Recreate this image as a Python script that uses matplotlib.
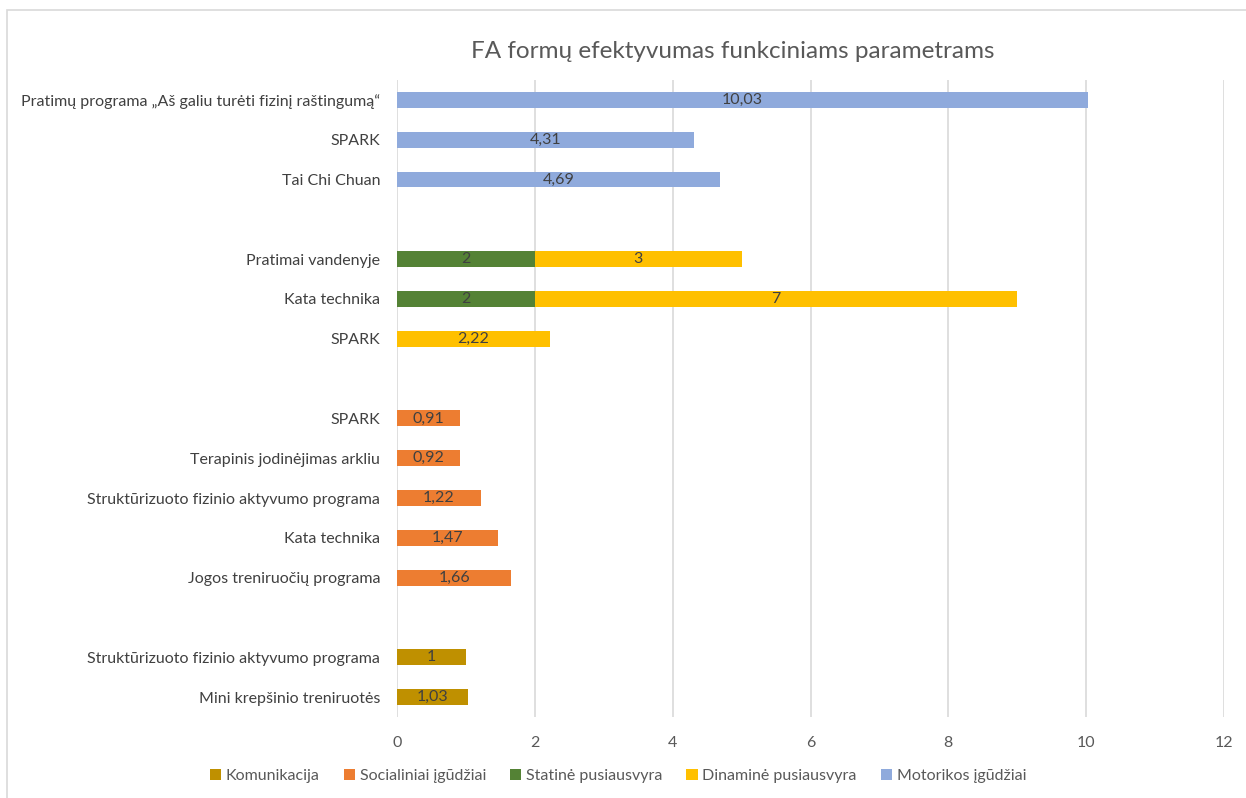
import numpy as np
import matplotlib.pyplot as plt
from matplotlib.patches import Rectangle

plt.rcParams['font.family'] = ['Lato', 'DejaVu Sans']

# rows from bottom to top, blank strings are the empty gap rows
rows = ['Mini krepšinio treniruotės',
        'Struktūrizuoto fizinio aktyvumo programa',
        '',
        'Jogos treniruočių programa',
        'Kata technika',
        'Struktūrizuoto fizinio aktyvumo programa',
        'Terapinis jodinėjimas arkliu',
        'SPARK',
        '',
        'SPARK',
        'Kata technika',
        'Pratimai vandenyje',
        '',
        'Tai Chi Chuan',
        'SPARK',
        'Pratimų programa „Aš galiu turėti fizinį raštingumą“']

komunikacija = [1.03, 1, 0, 0, 0, 0, 0, 0, 0, 0, 0, 0, 0, 0, 0, 0]
socialiniai = [0, 0, 0, 1.66, 1.47, 1.22, 0.92, 0.91, 0, 0, 0, 0, 0, 0, 0, 0]
statine = [0, 0, 0, 0, 0, 0, 0, 0, 0, 0, 2, 2, 0, 0, 0, 0]
dinamine = [0, 0, 0, 0, 0, 0, 0, 0, 0, 2.22, 7, 3, 0, 0, 0, 0]
motorikos = [0, 0, 0, 0, 0, 0, 0, 0, 0, 0, 0, 0, 0, 4.69, 4.31, 10.03]

series = [('Komunikacija', komunikacija, '#BF9000'),
          ('Socialiniai įgūdžiai', socialiniai, '#ED7D31'),
          ('Statinė pusiausvyra', statine, '#548235'),
          ('Dinaminė pusiausvyra', dinamine, '#FFC000'),
          ('Motorikos įgūdžiai', motorikos, '#8FAADC')]

fig = plt.figure(figsize=(12.46, 7.98), dpi=100)
fig.patches.append(Rectangle((7 / 1246, -0.1), 1.2, 1 - 10 / 798 + 0.1,
                             transform=fig.transFigure, fill=False,
                             edgecolor='#D9D9D9', linewidth=1.2))
ax = fig.add_axes([397 / 1246, 1 - 717 / 798, 827 / 1246, 637 / 798])

y = np.arange(len(rows))
left = np.zeros(len(rows))
for name, vals, col in series:
    vals = np.array(vals, dtype=float)
    bars = ax.barh(y, vals, left=left, height=0.4, color=col, label=name, zorder=3)
    for b, v in zip(bars, vals):
        if v > 0:
            txt = ('%g' % v).replace('.', ',')
            ax.text(b.get_x() + b.get_width() / 2, b.get_y() + b.get_height() / 2,
                    txt, ha='center', va='center', fontsize=11.5, color='#404040', zorder=4)
    left += vals

ax.set_xlim(0, 12)
ax.set_ylim(-0.5, len(rows) - 0.5)
ax.set_xticks(range(0, 13, 2))
ax.set_yticks(y)
ax.set_yticklabels(rows, fontsize=11.5, color='#404040')
ax.tick_params(axis='x', labelsize=11.5, labelcolor='#595959', length=0, pad=14)
ax.tick_params(axis='y', length=0, pad=12)
ax.grid(axis='x', color='#D9D9D9', linewidth=1.2, zorder=0)
for s in ax.spines.values():
    s.set_visible(False)

fig.text(733 / 1246, 1 - 52 / 798, 'FA formų efektyvumas funkciniams parametrams',
         ha='center', va='center', fontsize=17.5, color='#595959')

fig.legend(loc='center', bbox_to_anchor=(618 / 1246, 1 - 776 / 798), ncol=5,
           frameon=False, fontsize=11.5, handlelength=0.7, handleheight=0.7,
           handletextpad=0.3, columnspacing=1.5, labelcolor='#595959')

fig.savefig('out.png', dpi=100)
